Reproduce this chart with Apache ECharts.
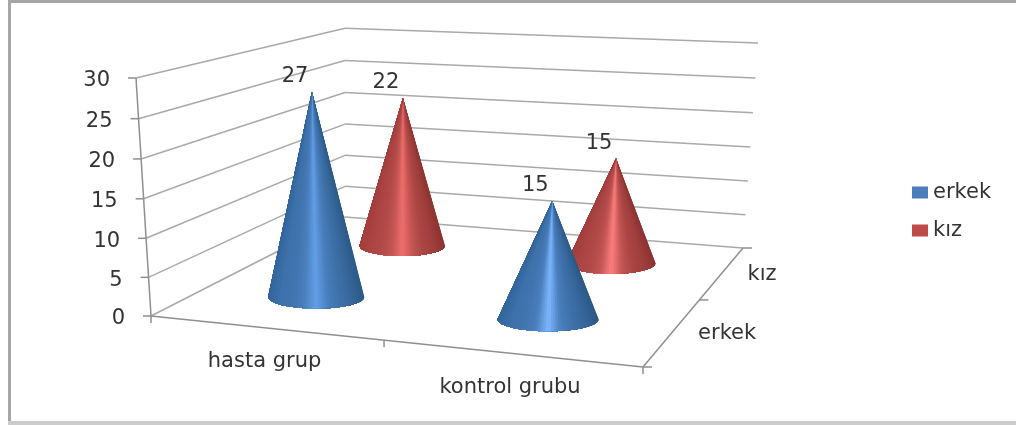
<!DOCTYPE html>
<html>
<head>
<meta charset="utf-8">
<style>
  html, body { margin: 0; padding: 0; background: #fff; }
  #chart { width: 1016px; height: 425px; }
</style>
<script src="https://cdn.jsdelivr.net/npm/echarts@6/dist/echarts.min.js"></script>
</head>
<body>
<div id="chart"></div>
<script>
// Chart data
const categories = ['hasta grup', 'kontrol grubu'];
const depthLabels = ['erkek', 'kız'];
const valueTicks = [0, 5, 10, 15, 20, 25, 30];
const erkek = [27, 15];
const kiz = [22, 15];

// Centre highlight of each cone, per category
const erkekShine = ['#629fe6', '#7cb7fd'];
const kizShine = ['#ef6f6d', '#fc7e7e'];

const FONT_FAMILY = '"DejaVu Sans", sans-serif';
const FONT = '21px ' + FONT_FAMILY;
const TEXT = '#333333';
const GRID_LINE = '#a9a9a9';
const AXIS_LINE = '#8f8f8f';

// Floor plane of the 3D box, as a perspective map of the unit square
const floorFL = [151, 316], floorFR = [643, 367], floorBR = [743, 248], floorBL = [345, 217];
const sx = floorFL[0] - floorFR[0] + floorBR[0] - floorBL[0];
const sy = floorFL[1] - floorFR[1] + floorBR[1] - floorBL[1];
const d1x = floorFR[0] - floorBR[0], d1y = floorFR[1] - floorBR[1];
const d2x = floorBL[0] - floorBR[0], d2y = floorBL[1] - floorBR[1];
const det = d1x * d2y - d1y * d2x;
const g = (sx * d2y - sy * d2x) / det;
const h = (d1x * sy - d1y * sx) / det;
const WALL_HEIGHT = 238;
const RADIUS = 50, RADIUS_Y = 12;
const LEAN = [-15, 15, 0, 15]; // sideways drift of verticals at FL, FR, BL, BR

function depthScale(u, v) { return 1 + g * u + h * v; }

// Project category position u, depth position v and height fraction t to pixels
function project(u, v, t) {
  const w = depthScale(u, v);
  const x = ((floorFR[0] - floorFL[0] + g * floorFR[0]) * u + (floorBL[0] - floorFL[0] + h * floorBL[0]) * v + floorFL[0]) / w;
  const y = ((floorFR[1] - floorFL[1] + g * floorFR[1]) * u + (floorBL[1] - floorFL[1] + h * floorBL[1]) * v + floorFL[1]) / w;
  const lean = (1 - u) * (1 - v) * LEAN[0] + u * (1 - v) * LEAN[1] + (1 - u) * v * LEAN[2] + u * v * LEAN[3];
  const p = t * 0.97 / (1 - 0.03 * t);
  return [x + lean * p, y - WALL_HEIGHT / w * p];
}

// Height fraction of a value, read through the value axis
function heightOf(api, value) {
  const y0 = api.coord([0, 0])[1];
  const y1 = api.coord([0, valueTicks[valueTicks.length - 1]])[1];
  return (y0 - api.coord([0, value])[1]) / (y0 - y1);
}

function seg(a, b, color, width) {
  return {
    type: 'line',
    shape: { x1: a[0], y1: a[1], x2: b[0], y2: b[1] },
    style: { stroke: color, lineWidth: width || 1.5 }
  };
}

function label(str, x, y, align) {
  return {
    type: 'text',
    style: { text: str, x: x, y: y, font: FONT, fill: TEXT, align: align || 'center', verticalAlign: 'middle' }
  };
}

// One gridline pair with its tick and label per data item
function renderWall(params, api) {
  const value = api.value(0);
  const t = heightOf(api, value);
  const fl = project(0, 0, t), bl = project(0, 1, t), br = project(1, 1, t);
  return {
    type: 'group',
    children: [
      seg(fl, bl, GRID_LINE),
      seg(bl, br, GRID_LINE),
      seg([fl[0] - 8, fl[1]], fl, AXIS_LINE),
      label(String(value), fl[0] - 26, fl[1] + 3, 'right')
    ]
  };
}

// Floor edges, category ticks and labels
function renderFloor(params, api) {
  const children = [
    seg(project(0, 0, 0), project(0, 0, 1), AXIS_LINE),
    seg(project(0, 0, 0), project(1, 0, 0), AXIS_LINE),
    seg(project(1, 0, 0), project(1, 1, 0), AXIS_LINE)
  ];
  [0, 0.5, 1].forEach(function (u) {
    const p = project(u, 0, 0);
    children.push(seg(p, [p[0], p[1] + 7], AXIS_LINE));
  });
  [0, 0.5, 1].forEach(function (v) {
    const p = project(1, v, 0);
    children.push(seg(p, [p[0] + 9, p[1]], AXIS_LINE));
  });
  categories.forEach(function (name, i) {
    const p = project((i + 0.5) / categories.length, 0, 0);
    children.push(label(name, p[0], p[1] + 34));
  });
  depthLabels.forEach(function (name, i) {
    const p = project(1, (i + 0.5) / depthLabels.length, 0);
    children.push(label(name, p[0] + 25, p[1] + 2, 'left'));
  });
  return { type: 'group', children: children };
}

// A cone shaded in wedges that meet at the tip, each painted over the rest of
// the rim still to come so no gaps show between neighbours
function coneRenderer(depthIndex, palette, shine) {
  return function (params, api) {
    const cat = api.value(0);
    const value = api.value(1);
    const u = (cat + 0.5) / categories.length;
    const v = (depthIndex + 0.5) / depthLabels.length;
    const w = depthScale(u, v);
    const base = project(u, v, 0);
    const tip = project(u, v, heightOf(api, value));
    const rx = RADIUS / w, ry = RADIUS_Y / w;
    const colors = palette.map(function (c) { return c === 'shine' ? shine[cat] : c; });
    const steps = 60;
    const children = [];
    for (let i = 0; i < steps; i++) {
      const across = 0.5 - 0.5 * Math.cos(Math.PI * (i + 0.5) / steps);
      const points = [tip];
      for (let j = i; j <= steps; j++) {
        const a = Math.PI * j / steps;
        points.push([base[0] + rx * Math.cos(a), base[1] + ry * Math.sin(a)]);
      }
      children.push({
        type: 'polygon',
        shape: { points: points },
        style: { fill: echarts.color.lerp(across, colors) }
      });
    }
    children.push(label(String(value), tip[0] - 17, tip[1] - 15));
    return { type: 'group', children: children };
  };
}

// Shading runs from the right edge of the rim to the left edge
const erkekPalette = ['#2c5a88', '#37679b', '#3f71a9', '#4a7fbd', 'shine', '#4a7fbd', '#4274ae', '#3e72ac', '#34669c'];
const kizPalette = ['#8d3432', '#9f3f3d', '#ab4644', '#c25553', 'shine', '#c25553', '#b04a48', '#ac4543', '#a23f3d'];

const chart = echarts.init(document.getElementById('chart'), null, { renderer: 'canvas' });
chart.setOption({
  animation: false,
  backgroundColor: '#ffffff',
  grid: { left: 151, top: 78, width: 492, height: 238 },
  xAxis: { type: 'category', data: categories, show: false },
  yAxis: { type: 'value', min: 0, max: 30, interval: 5, show: false },
  legend: {
    orient: 'vertical',
    left: 912,
    top: 182,
    padding: 0,
    itemWidth: 16,
    itemHeight: 12,
    itemGap: 17,
    icon: 'rect',
    selectedMode: false,
    data: depthLabels,
    textStyle: { fontFamily: FONT_FAMILY, fontSize: 21, color: TEXT }
  },
  graphic: [
    { type: 'rect', silent: true, shape: { x: 8, y: 0, width: 1008, height: 3 }, style: { fill: '#a6a6a6' } },
    { type: 'rect', silent: true, shape: { x: 8, y: 0, width: 3, height: 425 }, style: { fill: '#a6a6a6' } },
    { type: 'rect', silent: true, shape: { x: 8, y: 421, width: 1008, height: 4 }, style: { fill: '#cccccc' } }
  ],
  series: [
    { type: 'custom', name: 'frame', z: 1, silent: true, renderItem: renderWall, data: valueTicks.map(function (t) { return [t]; }), encode: { y: 0 } },
    { type: 'custom', name: 'floor', z: 1, silent: true, renderItem: renderFloor, data: [[0]] },
    {
      type: 'custom', name: 'erkek', z: 3, silent: true,
      itemStyle: { color: '#4a7ebb' },
      renderItem: coneRenderer(0, erkekPalette, erkekShine),
      data: erkek.map(function (val, i) { return [i, val]; }),
      encode: { x: 0, y: 1 }
    },
    {
      type: 'custom', name: 'kız', z: 2, silent: true,
      itemStyle: { color: '#be4b48' },
      renderItem: coneRenderer(1, kizPalette, kizShine),
      data: kiz.map(function (val, i) { return [i, val]; }),
      encode: { x: 0, y: 1 }
    }
  ]
});
</script>
</body>
</html>
